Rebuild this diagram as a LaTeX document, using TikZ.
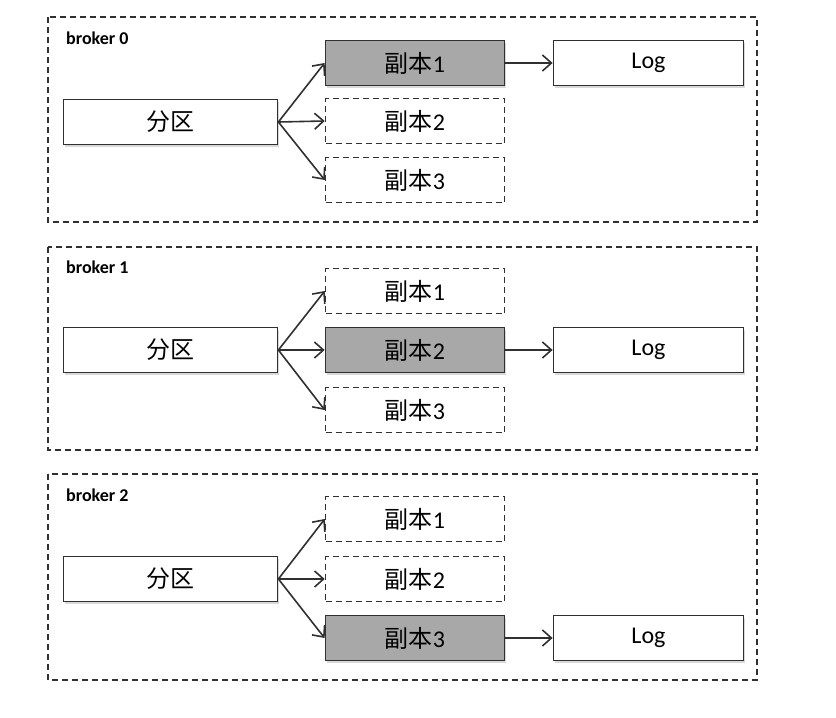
\documentclass[tikz,border=0pt]{standalone}
\usepackage{fontspec}
\setmainfont{Carlito}
\newfontfamily\cjk{Noto Sans CJK SC}
\usetikzlibrary{arrows.meta, shadows}
\definecolor{boxline}{HTML}{303030}
\definecolor{leadfill}{HTML}{A8A8A8}

\begin{document}
\begin{tikzpicture}[x=1pt, y=-1pt,
  panel/.style={draw=boxline, dash pattern=on 6pt off 4pt, line width=1.6pt},
  tag/.style={anchor=west, inner sep=0pt, font=\fontsize{18}{20}\selectfont\bfseries},
  box/.style={draw=boxline, line width=1.8pt, minimum height=45pt, inner sep=0pt,
    font=\fontsize{24}{26}\selectfont, fill=white,
    drop shadow={shadow xshift=1.5pt, shadow yshift=-2.5pt, opacity=0.3}},
  part/.style={box, minimum width=214pt},
  logbox/.style={box, minimum width=190pt},
  leader/.style={box, minimum width=179pt, fill=leadfill},
  follower/.style={draw=boxline, line width=1.5pt, dash pattern=on 6pt off 4pt,
    minimum width=179pt, minimum height=45pt, inner sep=0pt, font=\fontsize{24}{26}\selectfont},
  link/.style={draw=boxline, line width=1.6pt, -{Straight Barb[length=9pt, width=16pt, line width=1.6pt]}}
]
  \useasboundingbox (0,0) rectangle (836,718);

  % broker 0
  \draw[panel] (48,17) rectangle (757,222);
  \node[tag] (t0) at (66,38) {broker 0};
  \node[part] (p0) at (170.5,122) {\cjk 分区};
  \node[leader] (r01) at (415,63) {{\cjk 副本}1};
  \node[follower] (r02) at (415,121) {{\cjk 副本}2};
  \node[follower] (r03) at (415,180) {{\cjk 副本}3};
  \node[logbox] (l0) at (648.5,63) {Log};
  \draw[link] (p0.east) -- (r01.west);
  \draw[link] (p0.east) -- (r02.west);
  \draw[link] (p0.east) -- (r03.west);
  \draw[link] (r01.east) -- (l0.west);

  % broker 1
  \draw[panel] (48,247) rectangle (757,450);
  \node[tag] (t1) at (66,267) {broker 1};
  \node[part] (p1) at (170.5,350) {\cjk 分区};
  \node[follower] (r11) at (415,291) {{\cjk 副本}1};
  \node[leader] (r12) at (415,350) {{\cjk 副本}2};
  \node[follower] (r13) at (415,410) {{\cjk 副本}3};
  \node[logbox] (l1) at (648.5,350) {Log};
  \draw[link] (p1.east) -- (r11.west);
  \draw[link] (p1.east) -- (r12.west);
  \draw[link] (p1.east) -- (r13.west);
  \draw[link] (r12.east) -- (l1.west);

  % broker 2
  \draw[panel] (48,474) rectangle (757,680);
  \node[tag] (t2) at (66,495) {broker 2};
  \node[part] (p2) at (170.5,579) {\cjk 分区};
  \node[follower] (r21) at (415,519) {{\cjk 副本}1};
  \node[follower] (r22) at (415,579) {{\cjk 副本}2};
  \node[leader] (r23) at (415,638) {{\cjk 副本}3};
  \node[logbox] (l2) at (648.5,638) {Log};
  \draw[link] (p2.east) -- (r21.west);
  \draw[link] (p2.east) -- (r22.west);
  \draw[link] (p2.east) -- (r23.west);
  \draw[link] (r23.east) -- (l2.west);
\end{tikzpicture}
\end{document}
